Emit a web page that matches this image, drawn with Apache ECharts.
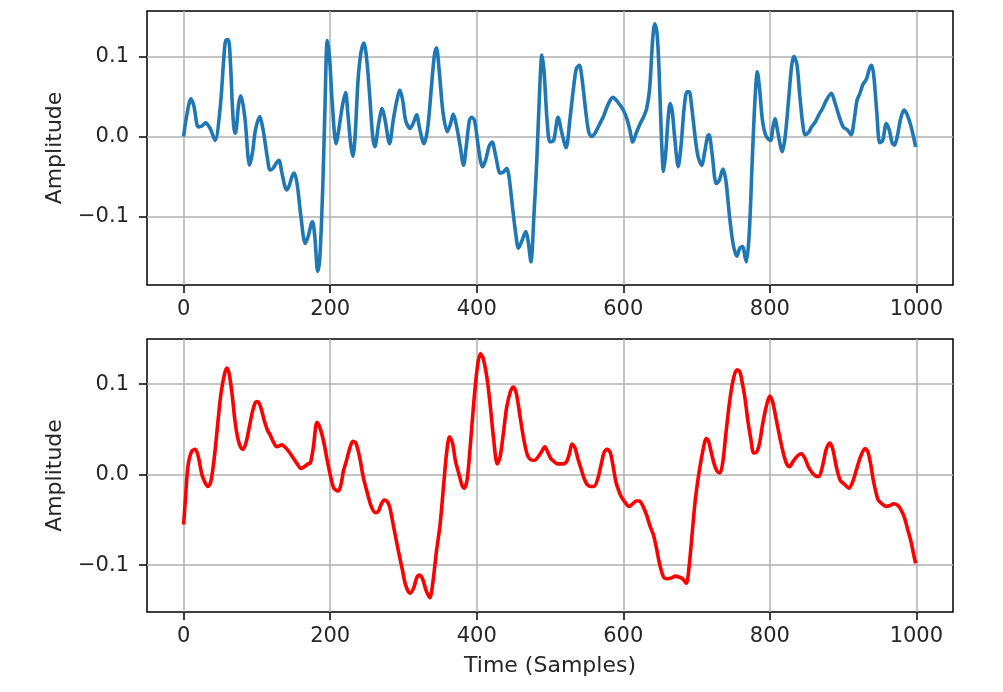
<!DOCTYPE html>
<html>
<head>
<meta charset="utf-8">
<script src="https://cdn.jsdelivr.net/npm/echarts@6/dist/echarts.min.js"></script>
<style>html,body{margin:0;padding:0;background:#fff}#c{width:1003px;height:692px}</style>
</head>
<body>
<div id="c"></div>
<script>
// ---- data ----
const xTicks = [0, 200, 400, 600, 800, 1000];
const yTicks = [-0.1, 0.0, 0.1];
const xLabel = 'Time (Samples)';
const yLabel = 'Amplitude';

const topX = [0,4,10,14,20,25,30,35,38,43,50,55,58,61,64,67,70,72,75,78,81,84,90,94,98,104,107,110,114,118,122,126,130,134,138,141,144,148,151,155,160,166,170,174,176,179,183,186,190,193,196,199,203,208,212,217,221,224,228,231,234,238,242,246,250,254,258,261,266,271,275,281,286,291,295,299,303,309,314,318,322,328,333,338,342,345,349,354,360,364,368,372,377,382,386,390,393,397,401,405,408,412,417,421,426,432,436,441,444,449,453,457,462,467,470,474,478,482,486,489,492,496,500,505,511,516,522,527,532,536,540,544,549,553,557,562,568,573,577,582,586,590,595,600,605,609,613,618,623,628,632,636,640,643,646,649,652,655,658,661,664,667,670,675,679,683,687,690,693,698,702,707,711,715,717,721,727,731,736,740,745,750,755,759,763,766,768,772,776,780,783,786,790,795,801,804,807,811,817,821,826,830,833,837,841,845,848,853,857,862,868,872,877,884,888,893,900,906,911,915,919,923,927,932,936,939,942,946,950,954,959,963,967,970,974,978,983,987,992,996,999];
const topY = [0.000,0.025,0.047,0.038,0.012,0.013,0.017,0.012,0.006,-0.005,0.037,0.100,0.121,0.121,0.090,0.030,0.004,0.010,0.040,0.051,0.040,0.020,-0.036,-0.020,0.008,0.025,0.015,0.000,-0.025,-0.042,-0.040,-0.034,-0.030,-0.045,-0.062,-0.067,-0.062,-0.050,-0.046,-0.060,-0.100,-0.134,-0.125,-0.110,-0.107,-0.125,-0.169,-0.150,-0.060,0.040,0.120,0.100,0.040,-0.009,0.010,0.040,0.055,0.030,-0.010,-0.025,0.000,0.070,0.105,0.117,0.095,0.050,0.000,-0.013,0.015,0.035,0.020,-0.009,0.020,0.045,0.058,0.045,0.020,0.010,0.018,0.027,0.010,-0.009,0.010,0.060,0.100,0.111,0.080,0.030,0.006,0.015,0.028,0.015,-0.010,-0.036,-0.010,0.020,0.024,0.020,-0.005,-0.030,-0.038,-0.030,-0.012,-0.007,-0.025,-0.046,-0.045,-0.040,-0.050,-0.090,-0.120,-0.140,-0.130,-0.119,-0.130,-0.157,-0.100,-0.030,0.060,0.102,0.080,0.020,-0.007,-0.005,0.024,0.005,-0.014,0.020,0.060,0.085,0.089,0.070,0.030,0.005,0.000,0.005,0.016,0.025,0.035,0.045,0.049,0.046,0.040,0.033,0.022,0.008,-0.007,0.005,0.016,0.025,0.035,0.060,0.120,0.141,0.130,0.080,0.000,-0.044,-0.020,0.020,0.041,0.030,0.000,-0.038,-0.010,0.035,0.056,0.056,0.040,0.000,-0.025,-0.036,-0.020,0.000,0.002,-0.020,-0.059,-0.055,-0.041,-0.055,-0.100,-0.135,-0.150,-0.140,-0.138,-0.150,-0.157,-0.120,-0.030,0.050,0.081,0.060,0.020,0.000,-0.005,0.010,0.022,0.005,-0.019,0.000,0.050,0.090,0.100,0.090,0.050,0.015,0.002,0.005,0.012,0.018,0.029,0.035,0.045,0.054,0.045,0.030,0.012,0.008,0.002,0.020,0.045,0.054,0.065,0.072,0.085,0.089,0.075,0.030,-0.008,-0.005,0.016,0.008,-0.008,-0.011,0.000,0.020,0.033,0.028,0.015,0.000,-0.013];

const botX = [0,3,6,11,16,20,25,30,33,37,42,47,51,56,59,62,66,70,74,78,81,85,89,94,98,101,105,110,114,118,122,127,131,134,139,145,150,155,160,165,170,173,177,182,186,191,195,200,205,211,215,218,222,227,231,235,240,245,250,256,262,266,270,274,277,281,286,292,298,303,309,314,318,322,326,331,336,340,345,350,355,359,363,367,371,376,380,383,387,391,396,401,405,409,414,418,423,428,432,437,441,446,450,454,459,464,469,473,479,484,489,493,497,501,505,510,514,518,523,527,530,534,538,543,547,551,556,560,565,570,574,578,582,586,590,594,597,602,608,613,618,622,627,632,637,641,645,650,655,660,666,671,676,681,686,690,694,698,702,706,710,713,716,720,724,728,732,736,740,745,750,755,759,763,766,770,774,778,782,786,790,795,800,804,809,814,819,823,827,832,838,843,848,852,857,862,867,872,877,882,886,891,896,901,905,908,913,918,923,927,930,934,938,941,945,948,953,959,964,969,973,977,981,984,988,993,996,999];
const botY = [-0.055,-0.020,0.010,0.026,0.028,0.020,0.000,-0.010,-0.013,-0.008,0.020,0.060,0.090,0.112,0.118,0.112,0.090,0.060,0.040,0.030,0.028,0.035,0.050,0.070,0.080,0.081,0.075,0.060,0.050,0.044,0.037,0.031,0.032,0.033,0.030,0.024,0.018,0.012,0.007,0.009,0.012,0.013,0.030,0.058,0.052,0.037,0.020,0.000,-0.015,-0.018,-0.010,0.004,0.015,0.030,0.037,0.035,0.020,-0.002,-0.018,-0.035,-0.042,-0.040,-0.032,-0.028,-0.029,-0.035,-0.055,-0.080,-0.103,-0.122,-0.131,-0.125,-0.114,-0.111,-0.115,-0.128,-0.136,-0.120,-0.085,-0.055,-0.010,0.025,0.042,0.035,0.015,0.000,-0.012,-0.015,-0.005,0.030,0.080,0.120,0.134,0.128,0.107,0.080,0.040,0.012,0.020,0.050,0.075,0.092,0.097,0.090,0.065,0.040,0.022,0.017,0.016,0.020,0.026,0.031,0.025,0.018,0.015,0.012,0.012,0.012,0.015,0.025,0.034,0.030,0.018,0.005,-0.005,-0.011,-0.013,-0.013,-0.005,0.012,0.025,0.028,0.025,0.010,-0.008,-0.018,-0.024,-0.030,-0.035,-0.032,-0.029,-0.029,-0.035,-0.045,-0.058,-0.066,-0.080,-0.100,-0.113,-0.115,-0.114,-0.112,-0.113,-0.115,-0.120,-0.100,-0.065,-0.030,-0.005,0.015,0.032,0.040,0.038,0.025,0.012,0.004,0.002,0.015,0.045,0.080,0.105,0.116,0.114,0.099,0.085,0.060,0.040,0.024,0.025,0.035,0.055,0.075,0.087,0.080,0.060,0.040,0.022,0.012,0.009,0.015,0.021,0.023,0.018,0.010,0.003,-0.001,-0.002,0.010,0.028,0.035,0.028,0.008,-0.006,-0.010,-0.013,-0.015,-0.008,0.005,0.018,0.026,0.029,0.025,0.010,-0.005,-0.020,-0.028,-0.032,-0.035,-0.034,-0.032,-0.033,-0.036,-0.042,-0.048,-0.060,-0.075,-0.087,-0.098];

// ---- chart ----
const FONT = 'DejaVu Sans';
const pair = (xs, ys) => xs.map((x, i) => [x, ys[i]]);
const fmtY = v => (Math.abs(v) < 1e-9 ? '0.0' : v.toFixed(1).replace('-', '\u2212'));
const fmtX = v => String(Math.round(v));

function xAxis(idx) {
  return {
    type: 'value', gridIndex: idx, min: -50, max: 1050,
    name: idx === 1 ? xLabel : '', nameLocation: 'middle', nameGap: 43,
    nameTextStyle: { fontFamily: FONT, fontSize: 22, color: '#262626' },
    axisLine: { show: false, onZero: false },
    axisTick: { show: true, inside: false, length: 8, lineStyle: { color: '#000', width: 1.5 }, customValues: xTicks },
    axisLabel: { customValues: xTicks, margin: 14, fontFamily: FONT, fontSize: 21, color: '#262626', formatter: fmtX },
    splitLine: { show: true, lineStyle: { color: '#b0b0b0', width: 1.5 } }
  };
}
function yAxis(idx, mn, mx) {
  return {
    type: 'value', gridIndex: idx, min: mn, max: mx,
    name: yLabel, nameLocation: 'middle', nameGap: 81,
    nameTextStyle: { fontFamily: FONT, fontSize: 22, color: '#262626' },
    axisLine: { show: false, onZero: false },
    axisTick: { show: true, inside: false, length: 8, lineStyle: { color: '#000', width: 1.5 }, customValues: yTicks },
    axisLabel: { customValues: yTicks, margin: 18, fontFamily: FONT, fontSize: 21, color: '#262626', formatter: fmtY },
    splitLine: { show: true, lineStyle: { color: '#b0b0b0', width: 1.5 } }
  };
}

const chart = echarts.init(document.getElementById('c'), null, { renderer: 'canvas' });
chart.setOption({
  animation: false,
  backgroundColor: '#fff',
  grid: [
    { left: 147, right: 50, top: 11, height: 274, show: true, borderColor: '#000', borderWidth: 1.5, backgroundColor: 'transparent' },
    { left: 147, right: 50, top: 339, height: 273, show: true, borderColor: '#000', borderWidth: 1.5, backgroundColor: 'transparent' }
  ],
  xAxis: [xAxis(0), xAxis(1)],
  yAxis: [yAxis(0, -0.186, 0.157), yAxis(1, -0.1517, 0.150)],
  series: [
    { type: 'line', xAxisIndex: 0, yAxisIndex: 0, data: pair(topX, topY), showSymbol: false, smooth: 0.3,
      lineStyle: { color: '#1f77b4', width: 3.6 }, z: 3 },
    { type: 'line', xAxisIndex: 1, yAxisIndex: 1, data: pair(botX, botY), showSymbol: false, smooth: 0.3,
      lineStyle: { color: '#ff0000', width: 3.6 }, z: 3 }
  ]
});
</script>
</body>
</html>
